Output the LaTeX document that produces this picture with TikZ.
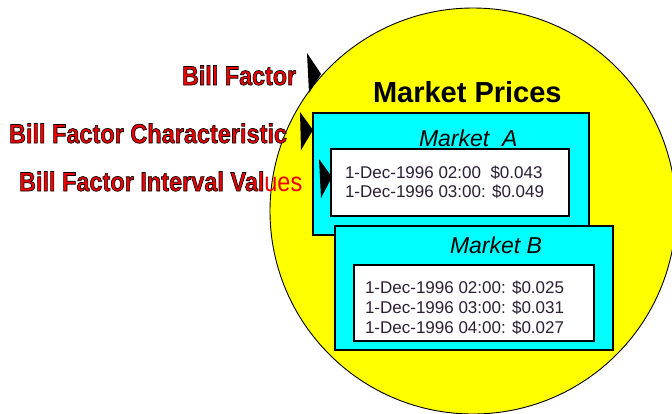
\documentclass[tikz,border=0pt]{standalone}
\usepackage{fontspec}
\setmainfont{Liberation Sans}
\definecolor{cyanbox}{HTML}{00FFFF}
\definecolor{yel}{HTML}{FFFF00}
\definecolor{lblred}{HTML}{EE0000}
\definecolor{datatext}{HTML}{2A1F33}
\newcommand{\outlined}[1]{\special{pdf:literal direct 2 Tr 0.7 w 0 0 0 RG}#1\special{pdf:literal direct 0 Tr}}
\begin{document}
\begin{tikzpicture}[x=1pt,y=-1pt,
  every node/.style={inner sep=0pt, outer sep=0pt},
  outer/.style={draw=black, line width=1.2pt, fill=cyanbox},
  inner/.style={draw=black, line width=1.2pt, fill=white},
  lbl/.style={anchor=base west, text=lblred, font=\fontsize{27}{27}\selectfont\bfseries},
  mtitle/.style={anchor=base west, font=\fontsize{23}{23}\selectfont\itshape},
  datatxt/.style={anchor=base west, text=datatext, font=\fontsize{17}{17}\selectfont},
  tip/.style={fill=black}
]
\useasboundingbox (0,0) rectangle (672,413);
\clip (0,0) rectangle (672,413);
% big circle
\draw[fill=yel, line width=0.9pt] (473,211) circle (203);
% Market A
\draw[outer] (313,113) rectangle (589,235);
\draw[inner] (331,149) rectangle (569,216);
% Market B
\draw[outer] (335,226) rectangle (613,350);
\draw[inner] (354,265) rectangle (594,341);
% titles
\node[anchor=base west, font=\fontsize{29}{29}\selectfont\bfseries] (mp) at (373,102) {Market Prices};
\node[mtitle] (ma) at (419,146) {Market\ \ A};
\node[mtitle] (mb) at (450,253) {Market B};
% data
\node[datatxt] (a1) at (345,178) {1-Dec-1996 02:00\ \ \$0.043};
\node[datatxt] (a2) at (345,197.5) {1-Dec-1996 03:00: \$0.049};
\node[datatxt] (b1) at (365,293) {1-Dec-1996 02:00: \$0.025};
\node[datatxt] (b2) at (365,313) {1-Dec-1996 03:00: \$0.031};
\node[datatxt] (b3) at (365,333) {1-Dec-1996 04:00: \$0.027};
% labels with dark edge
\node[lbl] (l1) at (182,85) {\scalebox{0.865}[1]{\outlined{Bill Factor}}};
\node[lbl] (l2) at (9,143) {\scalebox{0.87}[1]{\outlined{Bill Factor Characteristic}}};
\node[lbl] (l3) at (19,191) {\scalebox{0.87}[1]{\outlined{Bill Factor Interval Val}{\mdseries ues}}};
% arrow tips
\fill[tip] (307,53) -- (321,74) -- (309,93) -- cycle;
\fill[tip] (300,112) -- (313,130) -- (301,150) -- cycle;
\fill[tip] (319,159) -- (332,177) -- (321,198) -- cycle;
\end{tikzpicture}
\end{document}
